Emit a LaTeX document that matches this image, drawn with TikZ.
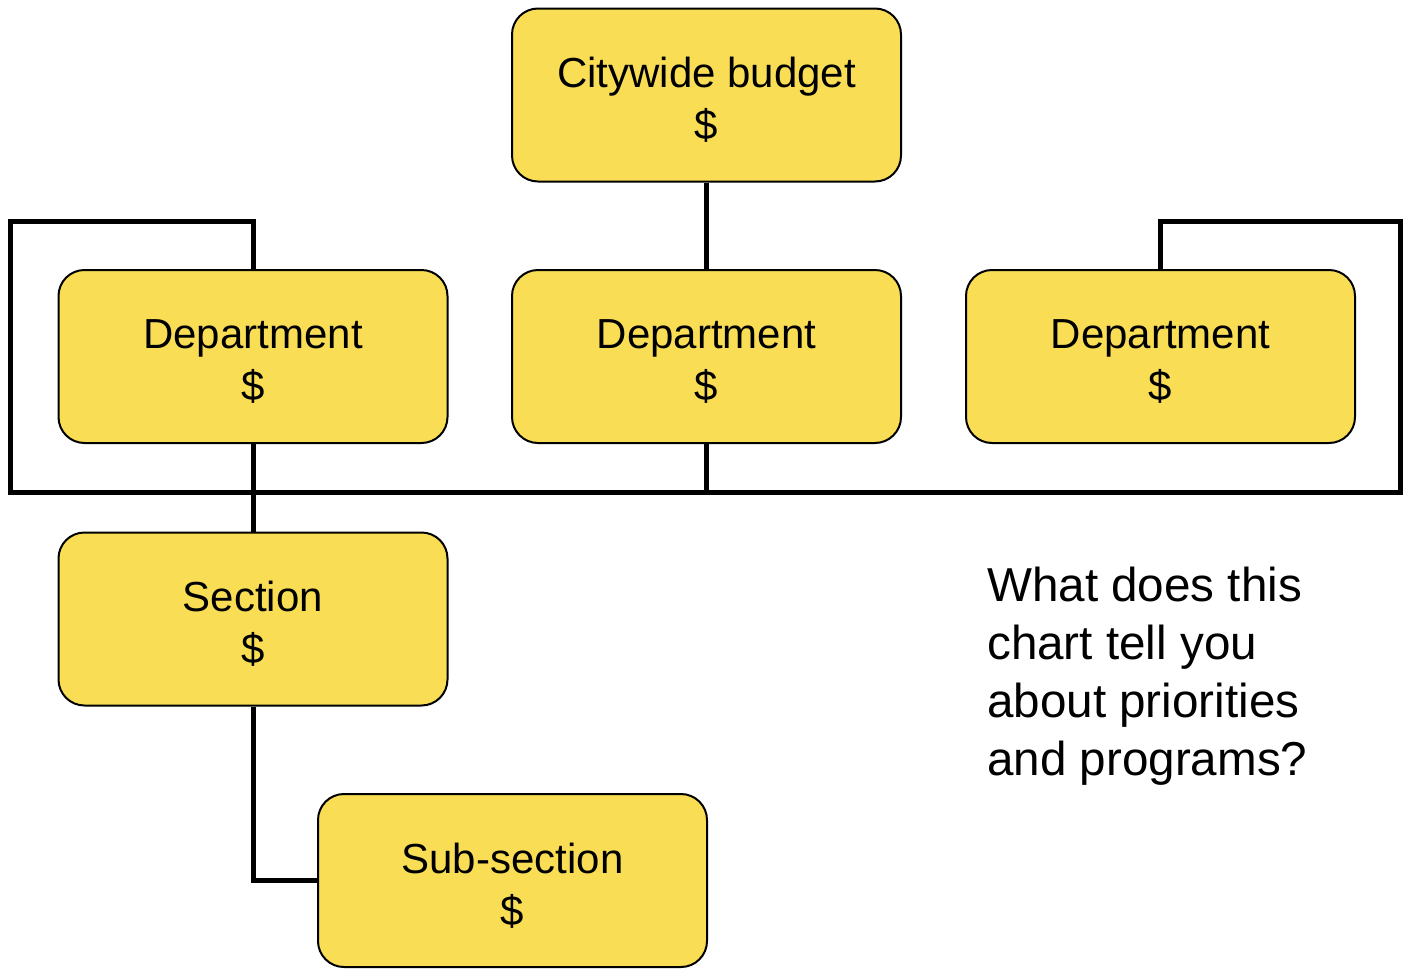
\documentclass[tikz,border=0pt]{standalone}
\usepackage{fontspec}
\setmainfont{Liberation Sans}
\begin{document}
\begin{tikzpicture}[x=1pt,y=-1pt,
  box/.style={draw=black, line width=2pt, fill=boxyellow, rounded corners=26pt,
    minimum width=389pt, minimum height=173pt, inner sep=0pt},
  boxtext/.style={align=center, inner sep=0pt, yshift=-5pt,
    font=\fontsize{42}{52}\selectfont},
  conn/.style={draw=black, line width=5pt, line join=miter}]
\definecolor{boxyellow}{HTML}{F9DE55}
\useasboundingbox[fill=white] (0,0) rectangle (1403,972);

% boxes
\node[box] (cb)  at (706.5,95)    {};
\node[box] (dl)  at (253,356.5)   {};
\node[box] (dm)  at (706.5,356.5) {};
\node[box] (dr)  at (1160.5,356.5) {};
\node[box] (sec) at (253,619)     {};
\node[box] (sub) at (512.5,880.5) {};

% box labels
\node[boxtext] (cbt)  at (cb)  {Citywide budget\\\$};
\node[boxtext] (dlt)  at (dl)  {Department\\\$};
\node[boxtext] (dmt)  at (dm)  {Department\\\$};
\node[boxtext] (drt)  at (dr)  {Department\\\$};
\node[boxtext] (sect) at (sec) {Section\\\$};
\node[boxtext] (subt) at (sub) {Sub-section\\\$};

% frame corners
\coordinate (ftl) at (10,221);
\coordinate (fbr) at (1400.5,492);
\coordinate (ftr) at (1400.5,221);

% connectors
\draw[conn] (cb.south) -- (dm.north);
\draw[conn] (dl.north) |- (ftl) |- (fbr) -- (ftr) -| (dr.north);
\draw[conn] (dm.south) -- (dm.south |- fbr);
\draw[conn] (dl.south) -- (sec.north);
\draw[conn] (sec.south) |- (sub.west);

\node[anchor=north west, align=left, inner sep=0pt,
  font=\fontsize{47.6}{57.8}\selectfont] (q) at (987,567)
  {What does this\\chart tell you\\about priorities\\and programs?};
\end{tikzpicture}
\end{document}
